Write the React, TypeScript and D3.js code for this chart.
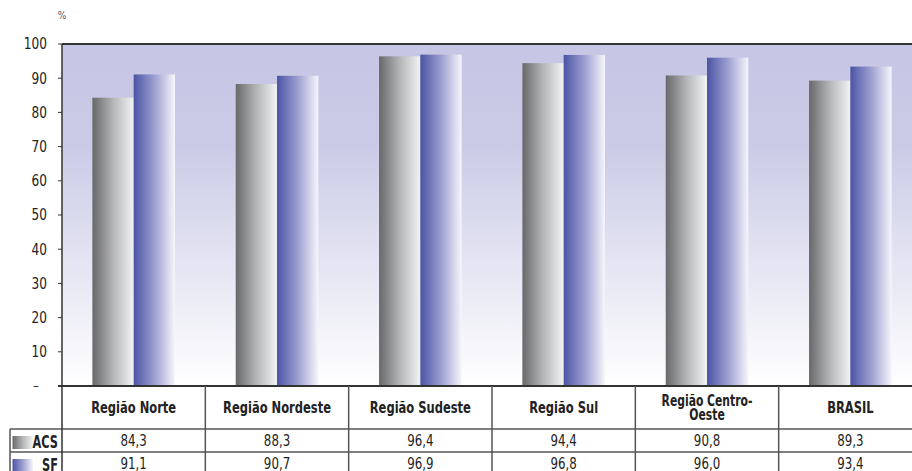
import React from "react";
import * as d3 from "d3";

const categories = ["Região Norte", "Região Nordeste", "Região Sudeste", "Região Sul", "Região Centro-\nOeste", "BRASIL"];
const seriesNames = ["ACS", "SF"];
const acsValues = [84.3, 88.3, 96.4, 94.4, 90.8, 89.3];
const sfValues = [91.1, 90.7, 96.9, 96.8, 96.0, 93.4];
const yTicks = [10, 20, 30, 40, 50, 60, 70, 80, 90, 100];
const valueLabels = [
  ["84,3", "88,3", "96,4", "94,4", "90,8", "89,3"],
  ["91,1", "90,7", "96,9", "96,8", "96,0", "93,4"],
];

const W = 912;
const H = 471;
const left = 62;
const right = 922;
const top = 44;
const bottom = 386;
const headerBottom = 429;
const row1Bottom = 452;
const row2Bottom = 475;
const legendLeft = 10;

const FONT = "'Liberation Sans Narrow', 'DejaVu Sans Condensed', 'Arial Narrow', sans-serif";

type STProps = {
  x: number;
  y: number;
  sx: number;
  size: number;
  anchor: "start" | "middle" | "end";
  bold?: boolean;
  fill?: string;
  children: React.ReactNode;
};

function SText({ x, y, sx, size, anchor, bold, fill, children }: STProps) {
  return (
    <text
      transform={`translate(${x},${y}) scale(${sx},1)`}
      x={0}
      y={0}
      dy="0.36em"
      textAnchor={anchor}
      fontSize={size}
      fontWeight={bold ? "bold" : "normal"}
      fill={fill ?? "#222"}
    >
      {children}
    </text>
  );
}

export default function App() {
  const x = d3.scaleBand<string>().domain(categories).range([left, right]).paddingInner(0).paddingOuter(0);
  const y = d3.scaleLinear().domain([0, 100]).range([bottom, top]);
  const bw = x.bandwidth();
  const barW = bw * 0.288;
  const series = [acsValues, sfValues];
  const grads = ["gACS", "gSF"];
  const rowTops = [headerBottom, row1Bottom];
  const rowBottoms = [row1Bottom, row2Bottom];

  return (
    <svg width={W} height={H} style={{ position: "absolute", left: 0, top: 0, background: "#fff" }} fontFamily={FONT}>
      <defs>
        <linearGradient id="gBg" x1="0" y1="0" x2="0" y2="1">
          <stop offset="0" stopColor="#c6c6e5" />
          <stop offset="0.3" stopColor="#cbcbe7" />
          <stop offset="1" stopColor="#ffffff" />
        </linearGradient>
        <linearGradient id="gACS" x1="0" y1="0" x2="1" y2="0">
          <stop offset="0" stopColor="#68686b" />
          <stop offset="0.5" stopColor="#b4b5b7" />
          <stop offset="1" stopColor="#f2f3f3" />
        </linearGradient>
        <linearGradient id="gSF" x1="0" y1="0" x2="1" y2="0">
          <stop offset="0" stopColor="#4b54a5" />
          <stop offset="0.5" stopColor="#9c9ed0" />
          <stop offset="1" stopColor="#f6f6fb" />
        </linearGradient>
      </defs>

      {/* % label */}
      <text x={62} y={19} fontSize={10} fill="#555" textAnchor="middle">%</text>

      {/* plot background */}
      <rect x={left} y={top} width={W - left} height={bottom - top} fill="url(#gBg)" />

      {/* bars */}
      {categories.map((c, i) => {
        const cx = (x(c) as number) + bw / 2;
        return series.map((vals, s) => (
          <rect
            key={c + s}
            x={s === 0 ? cx - barW : cx}
            y={y(vals[i])}
            width={barW}
            height={bottom - y(vals[i])}
            fill={`url(#${grads[s]})`}
          />
        ));
      })}

      {/* top border */}
      <line x1={left} x2={W} y1={top} y2={top} stroke="#333" strokeWidth={2} />

      {/* y axis ticks */}
      {yTicks.map((t) => (
        <g key={t}>
          <line x1={58} x2={left} y1={y(t)} y2={y(t)} stroke="#333" strokeWidth={1} />
          <SText x={47} y={y(t)} sx={0.9} size={15} anchor="end">{t}</SText>
        </g>
      ))}
      <SText x={36} y={y(0) - 1} sx={1} size={13} anchor="middle">–</SText>

      {/* table header */}
      {categories.map((c) => {
        const cx = (x(c) as number) + bw / 2;
        const lines = c.split("\n");
        const lh = 14;
        const y0 = (bottom + headerBottom) / 2 - ((lines.length - 1) * lh) / 2;
        return (
          <g key={"h" + c}>
            {lines.map((l, k) => (
              <SText key={k} x={cx} y={y0 + k * lh} sx={0.8} size={lines.length > 1 ? 15 : 16} anchor="middle" bold>{l}</SText>
            ))}
          </g>
        );
      })}

      {/* value rows */}
      {valueLabels.map((row, r) =>
        row.map((v, i) => {
          const cx = (x(categories[i]) as number) + bw / 2;
          return (
            <SText key={"v" + r + i} x={cx} y={(rowTops[r] + rowBottoms[r]) / 2} sx={0.82} size={16} anchor="middle">
              {v}
            </SText>
          );
        })
      )}

      {/* legend cells */}
      {seriesNames.map((s, r) => (
        <g key={"l" + s}>
          <rect x={12.5} y={rowTops[r] + 7} width={20.5} height={13} fill={`url(#${grads[r]})`} />
          <SText x={58} y={(rowTops[r] + rowBottoms[r]) / 2 + 1} sx={0.74} size={17} anchor="end" bold>{s}</SText>
        </g>
      ))}

      {/* table grid */}
      <line x1={58} x2={W} y1={bottom} y2={bottom} stroke="#333" strokeWidth={2} />
      <line x1={legendLeft} x2={W} y1={headerBottom} y2={headerBottom} stroke="#555" strokeWidth={1.5} />
      <line x1={legendLeft} x2={W} y1={row1Bottom} y2={row1Bottom} stroke="#555" strokeWidth={1.5} />
      <line x1={legendLeft} x2={legendLeft} y1={headerBottom} y2={H} stroke="#555" strokeWidth={1.5} />
      <line x1={left} x2={left} y1={top} y2={H} stroke="#333" strokeWidth={1.5} />
      {categories.slice(1).map((c) => (
        <line key={"vl" + c} x1={x(c) as number} x2={x(c) as number} y1={bottom} y2={H} stroke="#555" strokeWidth={1.5} />
      ))}
    </svg>
  );
}
